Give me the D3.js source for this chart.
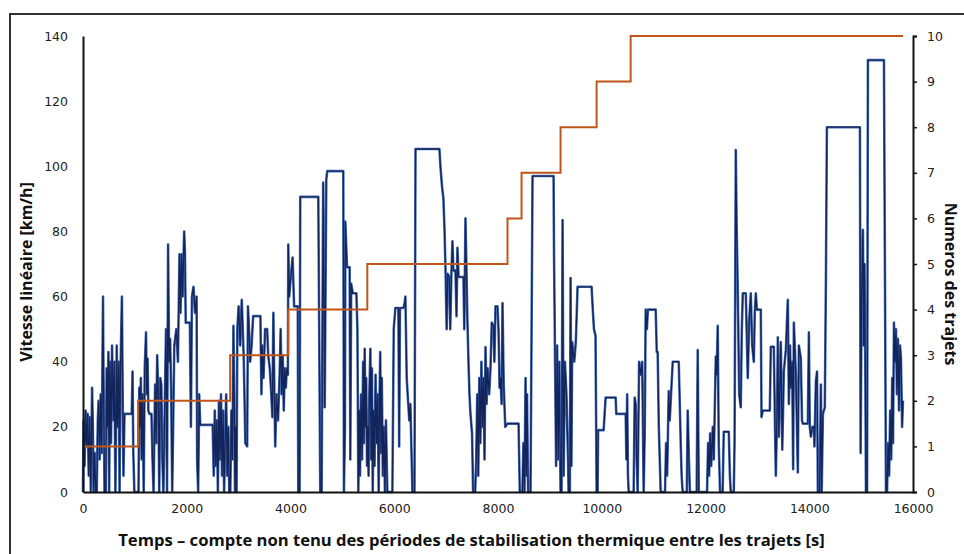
<!DOCTYPE html>
<html>
<head>
<meta charset="utf-8">
<script src="https://cdn.jsdelivr.net/npm/d3@7"></script>
<style>
  body { margin: 0; background: #fff; }
  svg { display: block; }
</style>
</head>
<body>
<script>
let w = 964;
let h = 554;

// vitesse linéaire [km/h] en fonction du temps [s]
let speedTrace = [
  [0,0],[10,22],[30,8],[50,25],[70,14],[90,24],[110,5],[130,23],[150,0],[175,32],[190,20],[205,0],[225,12],[245,0],
  [265,0],[285,22],[300,28],[320,10],[340,30],[360,12],[386,60],[395,36],[415,0],[440,0],[455,38],[470,20],[490,43],
  [505,0],[520,40],[540,15],[560,45],[585,22],[605,40],[625,0],[650,45],[665,20],[690,40],[705,0],[720,35],[750,60],
  [765,30],[780,5],[800,24],[940,24],[955,37],[970,12],[990,0],[1040,0],
  [1070,0],[1085,32],[1100,20],[1115,35],[1130,10],[1150,30],[1170,0],[1190,38],[1215,49],[1230,30],[1245,41],
  [1260,25],[1280,24],[1320,24],[1340,10],[1360,0],[1390,33],[1410,15],[1430,42],[1450,30],[1470,0],[1490,35],
  [1510,33],[1530,10],[1550,0],[1580,30],[1600,50],[1620,0],[1640,76],[1660,40],[1680,47],[1700,30],[1720,0],
  [1760,45],[1800,50],[1830,40],[1860,73],[1880,55],[1900,73],[1920,60],[1950,80],[1965,74],[1980,52],[2060,52],
  [2080,20],[2100,60],[2130,63],[2160,55],[2190,60],[2200,10],[2220,0],[2240,30],[2260,20.6],[2500,20.6],[2520,5],
  [2540,25],[2560,8],[2580,22],[2600,0],[2620,28],[2640,10],[2660,30],[2680,5],[2700,25],[2720,0],[2740,15],
  [2760,30],[2780,5],[2800,20],[2820,0],
  [2840,0],[2860,25],[2880,10],[2900,51],[2915,30],[2930,0],[2945,20],[2960,0],[2975,50],[3000,57],[3030,45],
  [3060,59],[3080,50],[3100,40],[3130,15],[3165,14],[3180,57],[3200,50],[3223,40],[3250,45],[3280,54],[3420,54],
  [3440,30],[3455,45],[3480,35],[3510,50],[3550,50],[3570,42],[3600,38],[3630,30],[3650,23],[3670,55],[3690,30],
  [3706,14],[3730,30],[3760,22],[3790,36],[3810,50],[3830,30],[3850,42],[3870,25],[3890,38],[3910,32],[3930,38],
  [3950,36],
  [3957,76],[3975,60],[3995,64],[4040,72],[4070,57],[4140,57],[4150,0],[4175,0],[4188,90.6],[4536,90.6],[4574,0],
  [4600,0],[4630,95],[4660,26],[4690,96],[4709,98.5],[5018,98.5],[5030,0],[5050,20],[5057,83],[5090,69],[5140,69],
  [5153,10],[5170,64],[5200,61],[5270,61],[5290,50],[5308,0],[5325,25],[5340,5],[5360,30],[5380,10],[5400,40],
  [5415,15],[5430,44],[5445,20],[5460,35],[5475,8],
  [5490,20],[5505,5],[5520,30],[5540,44],[5555,10],[5570,38],[5585,0],[5600,25],[5620,8],[5640,36],[5660,15],
  [5680,30],[5700,0],[5715,28],[5730,43],[5745,12],[5760,35],[5780,5],[5800,20],[5820,0],[5840,22],[5867,0],
  [5964,0],[5990,50],[6022,56.5],[6080,56.5],[6095,14],[6110,56.5],[6176,56.5],[6200,58],[6215,60],[6240,35],
  [6270,27],[6290,22],[6311,27],[6350,0],[6390,0],[6410,105.3],[6871,105.3],[6890,100],[6920,94],[6948,90],
  [6970,80],[6990,67],[7010,50],[7030,67],[7060,66],[7080,50],[7100,66],[7122,77],[7140,68],[7180,68],[7200,54],
  [7218,75],[7240,66],[7334,66],[7350,50],[7373,84],[7390,70],[7410,53],[7431,40],[7450,30],[7469,24],[7500,18],
  [7520,0],[7560,0],[7580,10],[7600,30],[7620,5],[7640,35],[7660,15],[7680,40],[7700,20],[7720,35],[7740,10],
  [7759,44.5],[7780,27],[7800,38],[7830,30],[7855,38],[7880,52],[7913,51],[7930,40],[7952,57],[7990,57],[8010,50],
  [8030,32],[8048,35],[8070,27],[8087,58],[8110,33],[8140,20],[8183,21],
  [8200,21],[8396,21],[8420,0],[8450,0],
  [8470,0],[8490,15],[8510,0],[8531,35],[8545,5],[8560,30],[8580,0],[8627,0],[8666,97],[9071,97],[9080,73],
  [9100,40],[9120,8],[9140,45],[9160,10],[9180,40],[9206,0],
  [9225,0],[9245,83.5],[9265,5],[9290,40],[9320,30],[9350,10],[9361,0],[9385,0],[9399,65.7],[9415,8],[9430,46],
  [9470,40],[9500,46],[9534,63],[9804,63],[9820,58],[9850,50],[9880,48],[9901,0],
  [9920,0],[9930,19],[10036,19],[10075,29],[10268,29],[10280,24],[10461,24],[10475,10],[10490,30],[10505,5],
  [10520,0],[10557,0],
  [10580,0],[10615,0],[10635,29],[10654,27],[10675,10],[10692,0],[10720,40],[10750,36],[10780,40],[10808,0],
  [10830,20],[10847,56],[10870,50],[10890,56],[11040,56],[11060,43],[11078,43],[11100,20],[11136,0],[11220,0],
  [11240,15],[11260,5],[11275,17],[11291,31],[11310,22],[11330,28],[11368,40],[11484,40],[11500,30],[11522,15],
  [11540,5],[11560,0],[11640,0],[11657,25],[11680,10],[11700,0],[11830,0],[11850,43.6],[11870,0],[12030,0],
  [12050,15],[12070,5],[12090,18],[12110,8],[12140,20],[12160,10],[12198,41.6],[12215,36],[12236,51],[12255,15],
  [12280,0],[12330,0],[12352,18.5],[12449,18.5],[12470,5],[12487,0],[12545,0],[12560,15],[12584,105],[12600,82],
  [12620,64],[12650,30],[12680,26],[12700,50],[12719,61],[12777,61],[12800,45],[12815,35],[12840,52],[12873,61],
  [12900,45],[12931,40],[12950,55],[12970,61],[12990,56],[13066,56],[13080,23],[13105,25],[13240,25],[13259,44.6],
  [13317,44.6],[13340,20],[13356,5],[13380,25],[13394,47.5],[13414,17],[13452,46],[13480,13],[13510,37],
  [13549,43.7],[13587,59],[13607,27],[13630,45],[13645,32],[13670,40],[13690,7],[13703,52],[13742,36],[13780,6],
  [13800,45],[13838,41],[13860,22],[13877,21],[13973,21],[13993,49],[14010,20],[14031,17],[14060,20],[14089,20],
  [14100,14],[14128,34],[14150,37],[14166,0],[14200,0],[14224,33],[14240,0],[14263,24],[14300,26],[14321,65],
  [14340,112],[14977,112],[14990,12],[15010,60],[15035,80.5],[15050,45],[15065,70],[15080,40],[15093,0],
  [15115,0],[15131,132.6],[15440,132.6],[15479,0],[15500,0],[15520,15],[15540,5],[15560,25],[15580,10],
  [15600,35],[15615,15],[15633,52],[15650,40],[15672,50],[15690,30],[15710,47],[15730,25],[15750,45],[15768,41],
  [15790,20],[15807,28]
];

// début de chaque trajet [s] et numéro du trajet
let tripStart = [0, 1062, 2837, 3957, 5481, 8183, 8454, 9206, 9901, 10557];
let tripNumber = [1, 2, 3, 4, 5, 6, 7, 8, 9, 10];
let tripEnd = 15807;

let xTicks = [0, 2000, 4000, 6000, 8000, 10000, 12000, 14000, 16000];
let yTicks = [0, 20, 40, 60, 80, 100, 120, 140];
let y2Ticks = [0, 1, 2, 3, 4, 5, 6, 7, 8, 9, 10];

let m = { left: 83, right: 913, top: 36, bottom: 492 };

let xScale = d3.scaleLinear().domain([0, 16000]).range([m.left, m.right]);
let yScale = d3.scaleLinear().domain([0, 140]).range([m.bottom, m.top]);
let y2Scale = d3.scaleLinear().domain([0, 10]).range([m.bottom, m.top]);

let svg = d3.select("body")
  .append("svg")
  .attr("width", w)
  .attr("height", h);

// cadre
svg.append("rect")
  .attr("x", 10)
  .attr("y", 14)
  .attr("width", 970)
  .attr("height", 560)
  .attr("fill", "none")
  .attr("stroke", "#333")
  .attr("stroke-width", 2);

// courbe de vitesse
let speedLine = d3.line()
  .x(d => xScale(d[0]))
  .y(d => yScale(d[1]));

svg.append("path")
  .datum(speedTrace)
  .attr("d", speedLine)
  .attr("fill", "none")
  .attr("stroke", "#4a70b6")
  .attr("stroke-width", 2.6)
  .attr("stroke-linejoin", "round");

svg.append("path")
  .datum(speedTrace)
  .attr("d", speedLine)
  .attr("fill", "none")
  .attr("stroke", "#13245a")
  .attr("stroke-width", 1.3)
  .attr("stroke-linejoin", "round");

// numéros des trajets (escalier)
let steps = tripStart.map((t, i) => [t, tripNumber[i]]);
steps.push([tripEnd, tripNumber[tripNumber.length - 1]]);

svg.append("path")
  .datum(steps)
  .attr("d", d3.line()
    .x(d => xScale(d[0]))
    .y(d => y2Scale(d[1]))
    .curve(d3.curveStepAfter))
  .attr("fill", "none")
  .attr("stroke", "#c0561a")
  .attr("stroke-width", 2);

// axes
let tickFont = "DejaVu Sans, Verdana, sans-serif";

let xAxis = svg.append("g")
  .attr("transform", "translate(0," + m.bottom + ")")
  .call(d3.axisBottom(xScale).tickValues(xTicks).tickSize(0).tickPadding(12).tickFormat(d3.format("d")));

let yAxis = svg.append("g")
  .attr("transform", "translate(" + m.left + ",0)")
  .call(d3.axisLeft(yScale).tickValues(yTicks).tickSize(0).tickPadding(15));

let y2Axis = svg.append("g")
  .attr("transform", "translate(" + m.right + ",0)")
  .call(d3.axisRight(y2Scale).tickValues(y2Ticks).tickSize(4).tickPadding(10));

[xAxis, yAxis, y2Axis].forEach(a => {
  a.select(".domain").attr("stroke", "#111").attr("stroke-width", 2);
  a.selectAll(".tick line").attr("stroke", "#111").attr("stroke-width", 1.5);
  a.selectAll("text")
    .attr("font-family", tickFont)
    .attr("font-size", "12.5px")
    .attr("fill", "#222");
});

// titres des axes
svg.append("text")
  .attr("transform", "translate(32,272) rotate(-90)")
  .attr("text-anchor", "middle")
  .attr("font-family", "Open Sans, sans-serif")
  .attr("font-weight", "bold")
  .attr("font-size", "16px")
  .attr("fill", "#111")
  .text("Vitesse linéaire [km/h]");

svg.append("text")
  .attr("transform", "translate(945,284) rotate(90)")
  .attr("text-anchor", "middle")
  .attr("font-family", "Open Sans, sans-serif")
  .attr("font-weight", "bold")
  .attr("font-size", "16px")
  .attr("fill", "#111")
  .text("Numeros des trajets");

svg.append("text")
  .attr("x", (117 + 826) / 2)
  .attr("y", 546)
  .attr("text-anchor", "middle")
  .attr("font-family", "Open Sans, sans-serif")
  .attr("font-weight", "bold")
  .attr("font-size", "16.6px")
  .attr("fill", "#111")
  .text("Temps – compte non tenu des périodes de stabilisation thermique entre les trajets [s]");
</script>
</body>
</html>
